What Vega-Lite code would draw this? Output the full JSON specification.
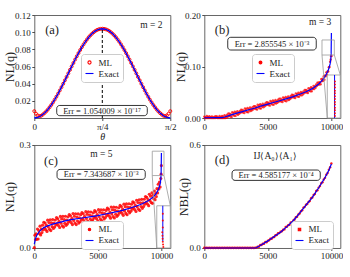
{
"$schema": "https://vega.github.io/schema/vega-lite/v6.json",
"padding": {"left": 3.3, "top": 10, "right": 0, "bottom": 0},
"config": {
  "font": "Liberation Serif",
  "view": {"stroke": "#666666", "strokeWidth": 1},
  "axis": {"grid": false, "domain": false, "tickSize": 2.5, "tickColor": "#222222", "tickWidth": 0.8, "labelFontSize": 9, "labelColor": "#222222", "labelPadding": 1.5, "labelFlush": false, "labelOverlap": false, "titleFontSize": 12, "titleFontWeight": "normal", "titleColor": "#222222", "labelFont": "Liberation Serif", "titleFont": "Liberation Serif"},
  "legend": {"labelFontSize": 9, "labelFont": "Liberation Serif", "labelColor": "#222222", "strokeColor": "#cccccc", "fillColor": "#ffffff", "cornerRadius": 3, "padding": 3.5, "rowPadding": 1, "labelOffset": 4, "symbolStrokeWidth": 1.2},
  "text": {"font": "Liberation Serif", "color": "#222222"}
},
"datasets": {
  "a_exact": [{"t":0,"v":0},{"t":0.03927,"v":0.00064},{"t":0.07854,"v":0.002545},{"t":0.11781,"v":0.005668},{"t":0.15708,"v":0.009931},{"t":0.19635,"v":0.015231},{"t":0.23562,"v":0.021435},{"t":0.27489,"v":0.028392},{"t":0.31416,"v":0.035931},{"t":0.35343,"v":0.043865},{"t":0.3927,"v":0.052},{"t":0.43197,"v":0.060135},{"t":0.47124,"v":0.068069},{"t":0.51051,"v":0.075608},{"t":0.54978,"v":0.082565},{"t":0.58905,"v":0.088769},{"t":0.62832,"v":0.094069},{"t":0.66759,"v":0.098332},{"t":0.70686,"v":0.101455},{"t":0.74613,"v":0.103359},{"t":0.7854,"v":0.104},{"t":0.82467,"v":0.103359},{"t":0.86394,"v":0.101455},{"t":0.90321,"v":0.098332},{"t":0.94248,"v":0.094069},{"t":0.98175,"v":0.088769},{"t":1.02102,"v":0.082565},{"t":1.06029,"v":0.075608},{"t":1.09956,"v":0.068069},{"t":1.13883,"v":0.060135},{"t":1.1781,"v":0.052},{"t":1.21737,"v":0.043865},{"t":1.25664,"v":0.035931},{"t":1.29591,"v":0.028392},{"t":1.33518,"v":0.021435},{"t":1.37445,"v":0.015231},{"t":1.41372,"v":0.009931},{"t":1.45299,"v":0.005668},{"t":1.49226,"v":0.002545},{"t":1.53153,"v":0.00064},{"t":1.5708,"v":0}],
  "a_ml": [{"t":0,"v":0.008},{"t":0.019635,"v":0.005},{"t":0.03927,"v":0.003},{"t":0.058905,"v":0.0022},{"t":0.07854,"v":0.0026},{"t":0.098175,"v":0.004},{"t":0.11781,"v":0.0057},{"t":0.137445,"v":0.0077},{"t":0.15708,"v":0.0099},{"t":0.176715,"v":0.0125},{"t":0.19635,"v":0.0152},{"t":0.215985,"v":0.0182},{"t":0.23562,"v":0.0214},{"t":0.255255,"v":0.0248},{"t":0.27489,"v":0.0284},{"t":0.294525,"v":0.0321},{"t":0.31416,"v":0.0359},{"t":0.333795,"v":0.0399},{"t":0.35343,"v":0.0439},{"t":0.373065,"v":0.0479},{"t":0.3927,"v":0.052},{"t":0.412335,"v":0.0561},{"t":0.43197,"v":0.0601},{"t":0.451605,"v":0.0641},{"t":0.47124,"v":0.0681},{"t":0.490875,"v":0.0719},{"t":0.51051,"v":0.0756},{"t":0.530145,"v":0.0792},{"t":0.54978,"v":0.0826},{"t":0.569415,"v":0.0858},{"t":0.58905,"v":0.0888},{"t":0.608685,"v":0.0915},{"t":0.62832,"v":0.0941},{"t":0.647955,"v":0.0963},{"t":0.66759,"v":0.0983},{"t":0.687225,"v":0.1},{"t":0.70686,"v":0.1015},{"t":0.726495,"v":0.1026},{"t":0.74613,"v":0.1034},{"t":0.765765,"v":0.1038},{"t":0.7854,"v":0.104},{"t":0.805035,"v":0.1038},{"t":0.82467,"v":0.1034},{"t":0.844305,"v":0.1026},{"t":0.86394,"v":0.1015},{"t":0.883575,"v":0.1},{"t":0.90321,"v":0.0983},{"t":0.922845,"v":0.0963},{"t":0.94248,"v":0.0941},{"t":0.962115,"v":0.0915},{"t":0.98175,"v":0.0888},{"t":1.001385,"v":0.0858},{"t":1.02102,"v":0.0826},{"t":1.040655,"v":0.0792},{"t":1.06029,"v":0.0756},{"t":1.079925,"v":0.0719},{"t":1.09956,"v":0.0681},{"t":1.119195,"v":0.0641},{"t":1.13883,"v":0.0601},{"t":1.158465,"v":0.0561},{"t":1.1781,"v":0.052},{"t":1.197735,"v":0.0479},{"t":1.21737,"v":0.0439},{"t":1.237005,"v":0.0399},{"t":1.25664,"v":0.0359},{"t":1.276275,"v":0.0321},{"t":1.29591,"v":0.0284},{"t":1.315545,"v":0.0248},{"t":1.33518,"v":0.0214},{"t":1.354815,"v":0.0182},{"t":1.37445,"v":0.0152},{"t":1.394085,"v":0.0125},{"t":1.41372,"v":0.0099},{"t":1.433355,"v":0.0077},{"t":1.45299,"v":0.0057},{"t":1.472625,"v":0.004},{"t":1.49226,"v":0.0026},{"t":1.511895,"v":0.0022},{"t":1.53153,"v":0.003},{"t":1.551165,"v":0.005},{"t":1.5708,"v":0.008}],
  "b_exact": [{"i":0,"v":0.0005},{"i":1000,"v":0.0006},{"i":1400,"v":0.0008},{"i":1600,"v":0.002},{"i":2000,"v":0.005},{"i":2500,"v":0.009},{"i":3000,"v":0.0125},{"i":3500,"v":0.016},{"i":4000,"v":0.0195},{"i":4500,"v":0.0235},{"i":5000,"v":0.027},{"i":5500,"v":0.0305},{"i":6000,"v":0.034},{"i":6500,"v":0.0375},{"i":7000,"v":0.0415},{"i":7500,"v":0.046},{"i":8000,"v":0.051},{"i":8500,"v":0.057},{"i":9000,"v":0.066},{"i":9200,"v":0.071},{"i":9400,"v":0.077},{"i":9600,"v":0.085},{"i":9700,"v":0.09},{"i":9800,"v":0.096},{"i":9900,"v":0.105},{"i":9950,"v":0.114},{"i":9980,"v":0.125},{"i":10000,"v":0.165}],
  "b_ml": [{"i":0,"v":0.0027},{"i":50,"v":0},{"i":100,"v":0.0012},{"i":150,"v":0},{"i":200,"v":0.0038},{"i":250,"v":0},{"i":300,"v":0.0022},{"i":350,"v":0},{"i":400,"v":0.0035},{"i":450,"v":0},{"i":500,"v":0.0016},{"i":550,"v":0},{"i":600,"v":0.0031},{"i":650,"v":0},{"i":700,"v":0.001},{"i":750,"v":0},{"i":800,"v":0.0025},{"i":850,"v":0},{"i":900,"v":0.0036},{"i":950,"v":0.0002},{"i":1000,"v":0.0028},{"i":1050,"v":0},{"i":1100,"v":0.0012},{"i":1150,"v":0},{"i":1200,"v":0.0038},{"i":1250,"v":0},{"i":1300,"v":0.0022},{"i":1350,"v":0},{"i":1400,"v":0.0037},{"i":1450,"v":0},{"i":1500,"v":0.0028},{"i":1550,"v":0},{"i":1600,"v":0.0056},{"i":1650,"v":0},{"i":1700,"v":0.0033},{"i":1750,"v":0.0005},{"i":1800,"v":0.0062},{"i":1850,"v":0.0025},{"i":1900,"v":0.0086},{"i":1950,"v":0.0041},{"i":2000,"v":0.0082},{"i":2050,"v":0.0031},{"i":2100,"v":0.0067},{"i":2150,"v":0.0021},{"i":2200,"v":0.0111},{"i":2250,"v":0.0061},{"i":2300,"v":0.0097},{"i":2350,"v":0.0046},{"i":2400,"v":0.0123},{"i":2450,"v":0.0041},{"i":2500,"v":0.0104},{"i":2550,"v":0.0076},{"i":2600,"v":0.0133},{"i":2650,"v":0.0065},{"i":2700,"v":0.0109},{"i":2750,"v":0.0081},{"i":2800,"v":0.0138},{"i":2850,"v":0.0101},{"i":2900,"v":0.0161},{"i":2950,"v":0.0117},{"i":3000,"v":0.0157},{"i":3050,"v":0.0106},{"i":3100,"v":0.0141},{"i":3150,"v":0.0095},{"i":3200,"v":0.0184},{"i":3250,"v":0.0134},{"i":3300,"v":0.0169},{"i":3350,"v":0.0118},{"i":3400,"v":0.0194},{"i":3450,"v":0.0112},{"i":3500,"v":0.0174},{"i":3550,"v":0.0146},{"i":3600,"v":0.0203},{"i":3650,"v":0.0135},{"i":3700,"v":0.0179},{"i":3750,"v":0.0151},{"i":3800,"v":0.0208},{"i":3850,"v":0.0171},{"i":3900,"v":0.0231},{"i":3950,"v":0.0187},{"i":4000,"v":0.0227},{"i":4050,"v":0.0176},{"i":4100,"v":0.0212},{"i":4150,"v":0.0166},{"i":4200,"v":0.0256},{"i":4250,"v":0.0206},{"i":4300,"v":0.0242},{"i":4350,"v":0.0191},{"i":4400,"v":0.0268},{"i":4450,"v":0.0186},{"i":4500,"v":0.0249},{"i":4550,"v":0.0221},{"i":4600,"v":0.0278},{"i":4650,"v":0.021},{"i":4700,"v":0.0254},{"i":4750,"v":0.0226},{"i":4800,"v":0.0283},{"i":4850,"v":0.0246},{"i":4900,"v":0.0306},{"i":4950,"v":0.0262},{"i":5000,"v":0.0302},{"i":5050,"v":0.0251},{"i":5100,"v":0.0286},{"i":5150,"v":0.024},{"i":5200,"v":0.0329},{"i":5250,"v":0.0279},{"i":5300,"v":0.0314},{"i":5350,"v":0.0263},{"i":5400,"v":0.0339},{"i":5450,"v":0.0257},{"i":5500,"v":0.0319},{"i":5550,"v":0.0291},{"i":5600,"v":0.0348},{"i":5650,"v":0.028},{"i":5700,"v":0.0324},{"i":5750,"v":0.0296},{"i":5800,"v":0.0353},{"i":5850,"v":0.0316},{"i":5900,"v":0.0376},{"i":5950,"v":0.0332},{"i":6000,"v":0.0372},{"i":6050,"v":0.0321},{"i":6100,"v":0.0356},{"i":6150,"v":0.031},{"i":6200,"v":0.0399},{"i":6250,"v":0.0349},{"i":6300,"v":0.0384},{"i":6350,"v":0.0333},{"i":6400,"v":0.0409},{"i":6450,"v":0.0327},{"i":6500,"v":0.0389},{"i":6550,"v":0.0361},{"i":6600,"v":0.0419},{"i":6650,"v":0.0351},{"i":6700,"v":0.0396},{"i":6750,"v":0.0368},{"i":6800,"v":0.0426},{"i":6850,"v":0.0389},{"i":6900,"v":0.045},{"i":6950,"v":0.0406},{"i":7000,"v":0.0447},{"i":7050,"v":0.0397},{"i":7100,"v":0.0433},{"i":7150,"v":0.0388},{"i":7200,"v":0.0478},{"i":7250,"v":0.0429},{"i":7300,"v":0.0465},{"i":7350,"v":0.0415},{"i":7400,"v":0.0492},{"i":7450,"v":0.0411},{"i":7500,"v":0.0474},{"i":7550,"v":0.0447},{"i":7600,"v":0.0506},{"i":7650,"v":0.0439},{"i":7700,"v":0.0485},{"i":7750,"v":0.0458},{"i":7800,"v":0.0517},{"i":7850,"v":0.0481},{"i":7900,"v":0.0543},{"i":7950,"v":0.05},{"i":8000,"v":0.0542},{"i":8050,"v":0.0493},{"i":8100,"v":0.0531},{"i":8150,"v":0.0487},{"i":8200,"v":0.0579},{"i":8250,"v":0.0531},{"i":8300,"v":0.0569},{"i":8350,"v":0.052},{"i":8400,"v":0.0599},{"i":8450,"v":0.0519},{"i":8500,"v":0.0584},{"i":8550,"v":0.0561},{"i":8600,"v":0.0624},{"i":8650,"v":0.0561},{"i":8700,"v":0.0611},{"i":8750,"v":0.0588},{"i":8800,"v":0.0651},{"i":8850,"v":0.0619},{"i":8900,"v":0.0685},{"i":8950,"v":0.0646},{"i":9000,"v":0.0692},{"i":9050,"v":0.065},{"i":9100,"v":0.0694},{"i":9150,"v":0.0657},{"i":9200,"v":0.0755},{"i":9250,"v":0.0716},{"i":9300,"v":0.0763},{"i":9350,"v":0.0723},{"i":9400,"v":0.0811},{"i":9450,"v":0.0745},{"i":9500,"v":0.0824},{"i":9550,"v":0.0812},{"i":9600,"v":0.0886},{"i":9650,"v":0.0839},{"i":9700,"v":0.0905},{"i":9750,"v":0.0903},{"i":9800,"v":0.0987},{"i":9850,"v":0.0991},{"i":9900,"v":0.1093},{"i":9950,"v":0.1135},{"i":9980,"v":0.12},{"i":10000,"v":0.121}],
  "b_inset": [{"i":10280,"v":0.004},{"i":10280,"v":0.009},{"i":10280,"v":0.015},{"i":10280,"v":0.02},{"i":10280,"v":0.026},{"i":10280,"v":0.031},{"i":10280,"v":0.037},{"i":10280,"v":0.042},{"i":10280,"v":0.048},{"i":10280,"v":0.053},{"i":10280,"v":0.059},{"i":10280,"v":0.065},{"i":10280,"v":0.071}],
  "c_exact": [{"i":0,"v":0.0112},{"i":100,"v":0.028},{"i":200,"v":0.0374},{"i":400,"v":0.0486},{"i":700,"v":0.058},{"i":1000,"v":0.0636},{"i":1500,"v":0.0701},{"i":2000,"v":0.0748},{"i":2500,"v":0.0795},{"i":3000,"v":0.0832},{"i":3500,"v":0.086},{"i":4000,"v":0.0888},{"i":4500,"v":0.0916},{"i":5000,"v":0.0944},{"i":5500,"v":0.0982},{"i":6000,"v":0.1019},{"i":6500,"v":0.1057},{"i":7000,"v":0.1103},{"i":7500,"v":0.1159},{"i":8000,"v":0.1216},{"i":8500,"v":0.129},{"i":9000,"v":0.1384},{"i":9300,"v":0.1468},{"i":9500,"v":0.1543},{"i":9700,"v":0.1655},{"i":9800,"v":0.1739},{"i":9900,"v":0.1861},{"i":9950,"v":0.1992},{"i":9980,"v":0.22},{"i":10000,"v":0.277}],
  "c_ml": [{"i":0,"v":0.001},{"i":50,"v":0.0374},{"i":100,"v":0.0247},{"i":150,"v":0.0411},{"i":200,"v":0.0256},{"i":250,"v":0.0554},{"i":300,"v":0.0262},{"i":350,"v":0.0509},{"i":400,"v":0.0419},{"i":450,"v":0.0637},{"i":500,"v":0.0382},{"i":550,"v":0.055},{"i":600,"v":0.0448},{"i":650,"v":0.0665},{"i":700,"v":0.0529},{"i":750,"v":0.0749},{"i":800,"v":0.0582},{"i":850,"v":0.0726},{"i":900,"v":0.0533},{"i":950,"v":0.066},{"i":1000,"v":0.0484},{"i":1050,"v":0.0811},{"i":1100,"v":0.0615},{"i":1150,"v":0.074},{"i":1200,"v":0.0544},{"i":1250,"v":0.082},{"i":1300,"v":0.0507},{"i":1350,"v":0.0732},{"i":1400,"v":0.0621},{"i":1450,"v":0.0829},{"i":1500,"v":0.0567},{"i":1550,"v":0.0723},{"i":1600,"v":0.061},{"i":1650,"v":0.0816},{"i":1700,"v":0.0669},{"i":1750,"v":0.0885},{"i":1800,"v":0.0712},{"i":1850,"v":0.0852},{"i":1900,"v":0.0655},{"i":1950,"v":0.0777},{"i":2000,"v":0.0597},{"i":2050,"v":0.0921},{"i":2100,"v":0.0724},{"i":2150,"v":0.0846},{"i":2200,"v":0.0649},{"i":2250,"v":0.0923},{"i":2300,"v":0.0608},{"i":2350,"v":0.0831},{"i":2400,"v":0.0718},{"i":2450,"v":0.0925},{"i":2500,"v":0.066},{"i":2550,"v":0.0815},{"i":2600,"v":0.0701},{"i":2650,"v":0.0907},{"i":2700,"v":0.0759},{"i":2750,"v":0.0973},{"i":2800,"v":0.08},{"i":2850,"v":0.0939},{"i":2900,"v":0.0741},{"i":2950,"v":0.0862},{"i":3000,"v":0.0681},{"i":3050,"v":0.1003},{"i":3100,"v":0.0804},{"i":3150,"v":0.0925},{"i":3200,"v":0.0726},{"i":3250,"v":0.0998},{"i":3300,"v":0.0681},{"i":3350,"v":0.0902},{"i":3400,"v":0.0787},{"i":3450,"v":0.0992},{"i":3500,"v":0.0726},{"i":3550,"v":0.088},{"i":3600,"v":0.0765},{"i":3650,"v":0.097},{"i":3700,"v":0.0821},{"i":3750,"v":0.1034},{"i":3800,"v":0.086},{"i":3850,"v":0.0998},{"i":3900,"v":0.0798},{"i":3950,"v":0.0919},{"i":4000,"v":0.0737},{"i":4050,"v":0.1059},{"i":4100,"v":0.086},{"i":4150,"v":0.0981},{"i":4200,"v":0.0782},{"i":4250,"v":0.1054},{"i":4300,"v":0.0737},{"i":4350,"v":0.0958},{"i":4400,"v":0.0843},{"i":4450,"v":0.1048},{"i":4500,"v":0.0782},{"i":4550,"v":0.0936},{"i":4600,"v":0.0821},{"i":4650,"v":0.1026},{"i":4700,"v":0.0877},{"i":4750,"v":0.109},{"i":4800,"v":0.0916},{"i":4850,"v":0.1054},{"i":4900,"v":0.0855},{"i":4950,"v":0.0975},{"i":5000,"v":0.0793},{"i":5050,"v":0.1116},{"i":5100,"v":0.0918},{"i":5150,"v":0.104},{"i":5200,"v":0.0842},{"i":5250,"v":0.1115},{"i":5300,"v":0.0798},{"i":5350,"v":0.1021},{"i":5400,"v":0.0907},{"i":5450,"v":0.1113},{"i":5500,"v":0.0847},{"i":5550,"v":0.1002},{"i":5600,"v":0.0888},{"i":5650,"v":0.1094},{"i":5700,"v":0.0946},{"i":5750,"v":0.116},{"i":5800,"v":0.0987},{"i":5850,"v":0.1126},{"i":5900,"v":0.0928},{"i":5950,"v":0.1049},{"i":6000,"v":0.0868},{"i":6050,"v":0.1191},{"i":6100,"v":0.0993},{"i":6150,"v":0.1115},{"i":6200,"v":0.0916},{"i":6250,"v":0.1189},{"i":6300,"v":0.0873},{"i":6350,"v":0.1096},{"i":6400,"v":0.0982},{"i":6450,"v":0.1187},{"i":6500,"v":0.0922},{"i":6550,"v":0.1078},{"i":6600,"v":0.0965},{"i":6650,"v":0.1172},{"i":6700,"v":0.1025},{"i":6750,"v":0.124},{"i":6800,"v":0.1068},{"i":6850,"v":0.1207},{"i":6900,"v":0.101},{"i":6950,"v":0.1132},{"i":7000,"v":0.0952},{"i":7050,"v":0.1277},{"i":7100,"v":0.1081},{"i":7150,"v":0.1204},{"i":7200,"v":0.1008},{"i":7250,"v":0.1283},{"i":7300,"v":0.0969},{"i":7350,"v":0.1193},{"i":7400,"v":0.1081},{"i":7450,"v":0.1288},{"i":7500,"v":0.1025},{"i":7550,"v":0.1182},{"i":7600,"v":0.107},{"i":7650,"v":0.1277},{"i":7700,"v":0.1131},{"i":7750,"v":0.1347},{"i":7800,"v":0.1176},{"i":7850,"v":0.1316},{"i":7900,"v":0.112},{"i":7950,"v":0.1244},{"i":8000,"v":0.1064},{"i":8050,"v":0.1391},{"i":8100,"v":0.1197},{"i":8150,"v":0.1322},{"i":8200,"v":0.1128},{"i":8250,"v":0.1404},{"i":8300,"v":0.1092},{"i":8350,"v":0.1318},{"i":8400,"v":0.1208},{"i":8450,"v":0.1417},{"i":8500,"v":0.1156},{"i":8550,"v":0.1316},{"i":8600,"v":0.1208},{"i":8650,"v":0.1419},{"i":8700,"v":0.1277},{"i":8750,"v":0.1497},{"i":8800,"v":0.133},{"i":8850,"v":0.1474},{"i":8900,"v":0.1281},{"i":8950,"v":0.1408},{"i":9000,"v":0.1232},{"i":9050,"v":0.1566},{"i":9100,"v":0.1378},{"i":9150,"v":0.151},{"i":9200,"v":0.1322},{"i":9250,"v":0.1605},{"i":9300,"v":0.13},{"i":9350,"v":0.1537},{"i":9400,"v":0.1438},{"i":9450,"v":0.1659},{"i":9500,"v":0.1408},{"i":9550,"v":0.1588},{"i":9600,"v":0.1498},{"i":9650,"v":0.1728},{"i":9700,"v":0.1604},{"i":9750,"v":0.1857},{"i":9800,"v":0.1722},{"i":9850,"v":0.1918},{"i":9900,"v":0.1777},{"i":9950,"v":0.2025},{"i":9980,"v":0.215},{"i":10000,"v":0.24}],
  "c_inset": [{"i":10150,"v":0.003},{"i":10130,"v":0.01},{"i":10110,"v":0.018},{"i":10095,"v":0.027},{"i":10080,"v":0.036},{"i":10065,"v":0.046},{"i":10110,"v":0.06},{"i":10110,"v":0.08},{"i":10110,"v":0.1}],
  "d_exact": [{"i":0,"v":0},{"i":4050,"v":0},{"i":4500,"v":0.0185},{"i":5000,"v":0.0415},{"i":5500,"v":0.0665},{"i":6000,"v":0.0923},{"i":6500,"v":0.1246},{"i":7000,"v":0.1588},{"i":7500,"v":0.2031},{"i":8000,"v":0.2492},{"i":8500,"v":0.2954},{"i":9000,"v":0.3507},{"i":9500,"v":0.4107},{"i":9800,"v":0.4523},{"i":10000,"v":0.4892}],
  "d_ml": [{"i":0,"v":0.0015},{"i":100,"v":0.0005},{"i":200,"v":0.0015},{"i":300,"v":0.0005},{"i":400,"v":0.0015},{"i":500,"v":0.0005},{"i":600,"v":0.0015},{"i":700,"v":0.0005},{"i":800,"v":0.0015},{"i":900,"v":0.0005},{"i":1000,"v":0.0015},{"i":1100,"v":0.0005},{"i":1200,"v":0.0015},{"i":1300,"v":0.0005},{"i":1400,"v":0.0015},{"i":1500,"v":0.0005},{"i":1600,"v":0.0015},{"i":1700,"v":0.0005},{"i":1800,"v":0.0015},{"i":1900,"v":0.0005},{"i":2000,"v":0.0015},{"i":2100,"v":0.0005},{"i":2200,"v":0.0015},{"i":2300,"v":0.0005},{"i":2400,"v":0.0015},{"i":2500,"v":0.0005},{"i":2600,"v":0.0015},{"i":2700,"v":0.0005},{"i":2800,"v":0.0015},{"i":2900,"v":0.0005},{"i":3000,"v":0.0015},{"i":3100,"v":0.0005},{"i":3200,"v":0.0015},{"i":3300,"v":0.0005},{"i":3400,"v":0.0015},{"i":3500,"v":0.0005},{"i":3600,"v":0.0015},{"i":3700,"v":0.0005},{"i":3800,"v":0.0015},{"i":3900,"v":0.0005},{"i":4000,"v":0.0015},{"i":4100,"v":0.001},{"i":4200,"v":0.0072},{"i":4300,"v":0.0069},{"i":4400,"v":0.018},{"i":4500,"v":0.0178},{"i":4600,"v":0.0249},{"i":4700,"v":0.0251},{"i":4800,"v":0.0356},{"i":4900,"v":0.0332},{"i":5000,"v":0.0426},{"i":5100,"v":0.045},{"i":5200,"v":0.0545},{"i":5300,"v":0.0535},{"i":5400,"v":0.0619},{"i":5500,"v":0.0643},{"i":5600,"v":0.0738},{"i":5700,"v":0.0757},{"i":5800,"v":0.0855},{"i":5900,"v":0.0867},{"i":6000,"v":0.0949},{"i":6100,"v":0.097},{"i":6200,"v":0.1059},{"i":6300,"v":0.1084},{"i":6400,"v":0.1218},{"i":6500,"v":0.1239},{"i":6600,"v":0.1332},{"i":6700,"v":0.1357},{"i":6800,"v":0.1484},{"i":6900,"v":0.1482},{"i":7000,"v":0.1599},{"i":7100,"v":0.1661},{"i":7200,"v":0.1795},{"i":7300,"v":0.1823},{"i":7400,"v":0.1946},{"i":7500,"v":0.2009},{"i":7600,"v":0.2145},{"i":7700,"v":0.2204},{"i":7800,"v":0.2343},{"i":7900,"v":0.2396},{"i":8000,"v":0.2518},{"i":8100,"v":0.2566},{"i":8200,"v":0.2684},{"i":8300,"v":0.2736},{"i":8400,"v":0.2898},{"i":8500,"v":0.2947},{"i":8600,"v":0.3082},{"i":8700,"v":0.3149},{"i":8800,"v":0.3319},{"i":8900,"v":0.336},{"i":9000,"v":0.3518},{"i":9100,"v":0.3612},{"i":9200,"v":0.3777},{"i":9300,"v":0.3837},{"i":9400,"v":0.3991},{"i":9500,"v":0.4085},{"i":9600,"v":0.4268},{"i":9700,"v":0.4373},{"i":9800,"v":0.4558},{"i":9900,"v":0.4703},{"i":10000,"v":0.4918}]
},
"columns": 2,
"spacing": {"row": 27, "column": 34},
"bounds": "flush",
"resolve": {"scale": {"color": "independent"}},
"concat": [
 {
  "width": 136, "height": 103,
  "layer": [
   {"data": {"name": "a_ml"}, "mark": {"type": "point", "filled": false, "strokeWidth": 0.9, "size": 9, "opacity": 1},
    "encoding": {
     "x": {"field": "t", "type": "quantitative", "scale": {"domain": [0, 1.5708], "nice": false, "zero": false}, "axis": {"values": [0, 0.7854, 1.5708], "labelExpr": "datum.value < 0.1 ? '0' : (datum.value < 1 ? 'π/4' : 'π/2')", "title": "θ", "titleFontStyle": "italic", "titleFontSize": 10, "titleY": 22, "titleBaseline": "alphabetic"}},
     "y": {"field": "v", "type": "quantitative", "scale": {"domain": [0, 0.12], "nice": false}, "axis": {"values": [0.02, 0.04, 0.06, 0.08, 0.1, 0.12], "tickCount": 6, "labelExpr": "datum.value < 0.001 ? '' : format(datum.value, '.2f')", "title": "NL(q)", "titleX": -24.3, "titleY": 51.5, "titleAngle": 270, "titleBaseline": "middle", "titleAlign": "center"}},
     "color": {"datum": "ML", "type": "nominal", "scale": {"domain": ["ML", "Exact"], "range": ["#ff0000", "#0000ff"]}, "legend": {"orient": "none", "legendX": 46.7, "legendY": 39, "title": null, "encoding": {"symbols": {"shape": {"value": {"expr": "datum.value === 'ML' ? 'circle' : 'stroke'"}}, "size": {"value": {"expr": "datum.value === 'ML' ? 10 : 64"}}, "stroke": {"value": {"expr": "datum.value === 'ML' ? '#ff0000' : '#0000ff'"}}, "fill": {"value": "transparent"}, "strokeWidth": {"value": 1.1}, "opacity": {"value": 1}}}}}
    }},
   {"data": {"name": "a_exact"}, "mark": {"type": "line", "strokeWidth": 1.3},
    "encoding": {"x": {"field": "t", "type": "quantitative"}, "y": {"field": "v", "type": "quantitative"},
     "color": {"datum": "Exact", "type": "nominal", "legend": {"orient": "none", "legendX": 46.7, "legendY": 39, "title": null, "encoding": {"symbols": {"shape": {"value": {"expr": "datum.value === 'ML' ? 'circle' : 'stroke'"}}, "size": {"value": {"expr": "datum.value === 'ML' ? 10 : 64"}}, "stroke": {"value": {"expr": "datum.value === 'ML' ? '#ff0000' : '#0000ff'"}}, "fill": {"value": "transparent"}, "strokeWidth": {"value": 1.1}, "opacity": {"value": 1}}}}}}},
   {"data": {"values": [{}]}, "mark": {"type": "rule", "strokeDash": [3, 2], "color": "black", "strokeWidth": 1}, "encoding": {"x": {"datum": 0.7854}, "y": {"datum": 0}, "y2": {"datum": 0.104}}},
   {"data": {"values": [{}]}, "mark": {"type": "rect", "cornerRadius": 3, "fill": "white", "stroke": "black", "strokeWidth": 0.8}, "encoding": {"x": {"datum": 0.259}, "x2": {"datum": 1.305}, "y": {"datum": 0.0027}, "y2": {"datum": 0.0146}}},
   {"data": {"values": [{}]}, "mark": {"type": "text", "fontSize": 8.5}, "encoding": {"x": {"datum": 0.782}, "y": {"datum": 0.0087}, "text": {"value": "Err = 1.054009 × 10⁻¹⁷"}}},
   {"data": {"values": [{}]}, "mark": {"type": "text", "fontSize": 12.5}, "encoding": {"x": {"datum": 0.205}, "y": {"datum": 0.1026}, "text": {"value": "(a)"}}},
   {"data": {"values": [{}]}, "mark": {"type": "text", "fontSize": 9.5}, "encoding": {"x": {"datum": 1.351}, "y": {"datum": 0.1084}, "text": {"value": "m = 2"}}}
  ]
 },
 {
  "width": 136, "height": 103,
  "layer": [
   {"data": {"name": "b_ml"}, "mark": {"type": "point", "filled": true, "size": 6, "opacity": 0.75},
    "encoding": {
     "x": {"field": "i", "type": "quantitative", "scale": {"domain": [0, 10700], "nice": false, "zero": false}, "axis": {"values": [0, 5000, 10000], "format": "d", "title": null}},
     "y": {"field": "v", "type": "quantitative", "scale": {"domain": [0, 0.2], "nice": false}, "axis": {"values": [0, 0.05, 0.1, 0.15, 0.2], "format": ".2f", "title": "NL(q)", "titleX": -24, "titleY": 51.5, "titleAngle": 270, "titleBaseline": "middle", "titleAlign": "center"}},
     "color": {"datum": "ML", "type": "nominal", "scale": {"domain": ["ML", "Exact"], "range": ["#ff0000", "#0000ff"]}, "legend": {"orient": "none", "legendX": 47.7, "legendY": 39, "title": null, "encoding": {"symbols": {"shape": {"value": {"expr": "datum.value === 'ML' ? 'circle' : 'stroke'"}}, "size": {"value": {"expr": "datum.value === 'ML' ? 8 : 64"}}, "stroke": {"value": {"expr": "datum.value === 'ML' ? '#ff0000' : '#0000ff'"}}, "fill": {"value": "transparent"}, "strokeWidth": {"value": 1.1}, "opacity": {"value": 1}}}}}
    }},
   {"data": {"name": "b_exact"}, "mark": {"type": "line", "strokeWidth": 1.2},
    "encoding": {"x": {"field": "i", "type": "quantitative"}, "y": {"field": "v", "type": "quantitative"},
     "color": {"datum": "Exact", "type": "nominal", "legend": {"orient": "none", "legendX": 47.7, "legendY": 39, "title": null, "encoding": {"symbols": {"shape": {"value": {"expr": "datum.value === 'ML' ? 'circle' : 'stroke'"}}, "size": {"value": {"expr": "datum.value === 'ML' ? 8 : 64"}}, "stroke": {"value": {"expr": "datum.value === 'ML' ? '#ff0000' : '#0000ff'"}}, "fill": {"value": "transparent"}, "strokeWidth": {"value": 1.1}, "opacity": {"value": 1}}}}}}},
   {"data": {"values": [{}]}, "mark": {"type": "rect", "fill": "white", "stroke": "#999999", "strokeWidth": 0.8}, "encoding": {"x": {"datum": 9675}, "x2": {"datum": 10700}, "y": {"datum": 0}, "y2": {"datum": 0.0835}}},
   {"data": {"values": [{}]}, "mark": {"type": "rule", "color": "#0000ff", "strokeWidth": 1}, "encoding": {"x": {"datum": 10250}, "y": {"datum": 0}, "y2": {"datum": 0.0835}}},
   {"data": {"name": "b_inset"}, "mark": {"type": "point", "filled": true, "color": "#ff0000", "size": 4, "opacity": 0.9}, "encoding": {"x": {"field": "i", "type": "quantitative"}, "y": {"field": "v", "type": "quantitative"}}},
   {"data": {"values": [{}]}, "mark": {"type": "rect", "fill": "white", "fillOpacity": 0, "stroke": "#999999", "strokeWidth": 0.8}, "encoding": {"x": {"datum": 9260}, "x2": {"datum": 10230}, "y": {"datum": 0.1223}, "y2": {"datum": 0.1515}}},
   {"data": {"values": [{}]}, "mark": {"type": "rule", "color": "#999999", "strokeWidth": 0.8}, "encoding": {"x": {"datum": 9260}, "y": {"datum": 0.1223}, "x2": {"datum": 9675}, "y2": {"datum": 0}}},
   {"data": {"values": [{}]}, "mark": {"type": "rule", "color": "#999999", "strokeWidth": 0.8}, "encoding": {"x": {"datum": 10230}, "y": {"datum": 0.1223}, "x2": {"datum": 10700}, "y2": {"datum": 0.0835}}},
   {"data": {"values": [{}]}, "mark": {"type": "rect", "cornerRadius": 3, "fill": "white", "stroke": "black", "strokeWidth": 0.8}, "encoding": {"x": {"datum": 1845}, "x2": {"datum": 8807}, "y": {"datum": 0.132}, "y2": {"datum": 0.1567}}},
   {"data": {"values": [{}]}, "mark": {"type": "text", "fontSize": 8.5}, "encoding": {"x": {"datum": 5326}, "y": {"datum": 0.1443}, "text": {"value": "Err = 2.855545 × 10⁻³"}}},
   {"data": {"values": [{}]}, "mark": {"type": "text", "fontSize": 12.5}, "encoding": {"x": {"datum": 1395}, "y": {"datum": 0.171}, "text": {"value": "(b)"}}},
   {"data": {"values": [{}]}, "mark": {"type": "text", "fontSize": 9.5}, "encoding": {"x": {"datum": 9120}, "y": {"datum": 0.186}, "text": {"value": "m = 3"}}}
  ]
 },
 {
  "width": 136, "height": 103,
  "layer": [
   {"data": {"name": "c_ml"}, "mark": {"type": "point", "filled": true, "size": 10, "opacity": 0.85},
    "encoding": {
     "x": {"field": "i", "type": "quantitative", "scale": {"domain": [0, 10700], "nice": false, "zero": false}, "axis": {"values": [0, 5000, 10000], "format": "d", "title": null}},
     "y": {"field": "v", "type": "quantitative", "scale": {"domain": [0, 0.3], "nice": false}, "axis": {"values": [0, 0.1, 0.2, 0.3], "format": ".1f", "title": "NL(q)", "titleX": -24.3, "titleY": 51.5, "titleAngle": 270, "titleBaseline": "middle", "titleAlign": "center"}},
     "color": {"datum": "ML", "type": "nominal", "scale": {"domain": ["ML", "Exact"], "range": ["#ff0000", "#0000ff"]}, "legend": {"orient": "none", "legendX": 46.7, "legendY": 76, "title": null, "encoding": {"symbols": {"shape": {"value": {"expr": "datum.value === 'ML' ? 'circle' : 'stroke'"}}, "size": {"value": {"expr": "datum.value === 'ML' ? 6 : 64"}}, "stroke": {"value": {"expr": "datum.value === 'ML' ? '#ff0000' : '#0000ff'"}}, "fill": {"value": {"expr": "datum.value === 'ML' ? '#ff0000' : 'transparent'"}}, "strokeWidth": {"value": 1.1}, "opacity": {"value": 1}}}}}
    }},
   {"data": {"name": "c_exact"}, "mark": {"type": "line", "strokeWidth": 1.2},
    "encoding": {"x": {"field": "i", "type": "quantitative"}, "y": {"field": "v", "type": "quantitative"},
     "color": {"datum": "Exact", "type": "nominal", "legend": {"orient": "none", "legendX": 46.7, "legendY": 76, "title": null, "encoding": {"symbols": {"shape": {"value": {"expr": "datum.value === 'ML' ? 'circle' : 'stroke'"}}, "size": {"value": {"expr": "datum.value === 'ML' ? 6 : 64"}}, "stroke": {"value": {"expr": "datum.value === 'ML' ? '#ff0000' : '#0000ff'"}}, "fill": {"value": {"expr": "datum.value === 'ML' ? '#ff0000' : 'transparent'"}}, "strokeWidth": {"value": 1.1}, "opacity": {"value": 1}}}}}}},
   {"data": {"values": [{}]}, "mark": {"type": "rect", "fill": "white", "stroke": "#999999", "strokeWidth": 0.8}, "encoding": {"x": {"datum": 9636}, "x2": {"datum": 10700}, "y": {"datum": 0}, "y2": {"datum": 0.123}}},
   {"data": {"values": [{}]}, "mark": {"type": "rule", "color": "#0000ff", "strokeWidth": 1}, "encoding": {"x": {"datum": 10110}, "y": {"datum": 0.02}, "y2": {"datum": 0.123}}},
   {"data": {"name": "c_inset"}, "mark": {"type": "point", "filled": true, "color": "#ff0000", "size": 4, "opacity": 0.9}, "encoding": {"x": {"field": "i", "type": "quantitative"}, "y": {"field": "v", "type": "quantitative"}}},
   {"data": {"values": [{}]}, "mark": {"type": "rect", "fill": "white", "fillOpacity": 0, "stroke": "#999999", "strokeWidth": 0.8}, "encoding": {"x": {"datum": 9280}, "x2": {"datum": 10203}, "y": {"datum": 0.211}, "y2": {"datum": 0.282}}},
   {"data": {"values": [{}]}, "mark": {"type": "rule", "color": "#999999", "strokeWidth": 0.8}, "encoding": {"x": {"datum": 9280}, "y": {"datum": 0.211}, "x2": {"datum": 9636}, "y2": {"datum": 0}}},
   {"data": {"values": [{}]}, "mark": {"type": "rule", "color": "#999999", "strokeWidth": 0.8}, "encoding": {"x": {"datum": 10203}, "y": {"datum": 0.211}, "x2": {"datum": 10700}, "y2": {"datum": 0.123}}},
   {"data": {"values": [{}]}, "mark": {"type": "rect", "cornerRadius": 3, "fill": "white", "stroke": "black", "strokeWidth": 0.8}, "encoding": {"x": {"datum": 1790}, "x2": {"datum": 8729}, "y": {"datum": 0.1998}, "y2": {"datum": 0.2289}}},
   {"data": {"values": [{}]}, "mark": {"type": "text", "fontSize": 8.5}, "encoding": {"x": {"datum": 5260}, "y": {"datum": 0.2143}, "text": {"value": "Err = 7.343687 × 10⁻³"}}},
   {"data": {"values": [{}]}, "mark": {"type": "text", "fontSize": 12.5}, "encoding": {"x": {"datum": 1317}, "y": {"datum": 0.2533}, "text": {"value": "(c)"}}},
   {"data": {"values": [{}]}, "mark": {"type": "text", "fontSize": 9.5}, "encoding": {"x": {"datum": 5283}, "y": {"datum": 0.2724}, "text": {"value": "m = 5"}}}
  ]
 },
 {
  "width": 136, "height": 103,
  "layer": [
   {"data": {"name": "d_ml"}, "mark": {"type": "point", "filled": true, "size": 6, "opacity": 0.9},
    "encoding": {
     "x": {"field": "i", "type": "quantitative", "scale": {"domain": [0, 10700], "nice": false, "zero": false}, "axis": {"values": [0, 5000, 10000], "format": "d", "title": null}},
     "y": {"field": "v", "type": "quantitative", "scale": {"domain": [0, 0.6], "nice": false}, "axis": {"values": [0, 0.2, 0.4, 0.6], "format": ".1f", "title": "NBL(q)", "titleX": -21, "titleY": 51.5, "titleAngle": 270, "titleBaseline": "middle", "titleAlign": "center"}},
     "color": {"datum": "ML", "type": "nominal", "scale": {"domain": ["ML", "Exact"], "range": ["#ff0000", "#0000ff"]}, "legend": {"orient": "none", "legendX": 86.7, "legendY": 76, "title": null, "encoding": {"symbols": {"shape": {"value": {"expr": "datum.value === 'ML' ? 'square' : 'stroke'"}}, "size": {"value": {"expr": "datum.value === 'ML' ? 6 : 64"}}, "stroke": {"value": {"expr": "datum.value === 'ML' ? '#ff0000' : '#0000ff'"}}, "fill": {"value": {"expr": "datum.value === 'ML' ? '#ff0000' : 'transparent'"}}, "strokeWidth": {"value": 1.1}, "opacity": {"value": 1}}}}}
    }},
   {"data": {"name": "d_exact"}, "mark": {"type": "line", "strokeWidth": 1.2},
    "encoding": {"x": {"field": "i", "type": "quantitative"}, "y": {"field": "v", "type": "quantitative"},
     "color": {"datum": "Exact", "type": "nominal", "legend": {"orient": "none", "legendX": 86.7, "legendY": 76, "title": null, "encoding": {"symbols": {"shape": {"value": {"expr": "datum.value === 'ML' ? 'square' : 'stroke'"}}, "size": {"value": {"expr": "datum.value === 'ML' ? 6 : 64"}}, "stroke": {"value": {"expr": "datum.value === 'ML' ? '#ff0000' : '#0000ff'"}}, "fill": {"value": {"expr": "datum.value === 'ML' ? '#ff0000' : 'transparent'"}}, "strokeWidth": {"value": 1.1}, "opacity": {"value": 1}}}}}}},
   {"data": {"values": [{}]}, "mark": {"type": "rect", "cornerRadius": 3, "fill": "white", "stroke": "black", "strokeWidth": 0.8}, "encoding": {"x": {"datum": 2184}, "x2": {"datum": 9123}, "y": {"datum": 0.3938}, "y2": {"datum": 0.4542}}},
   {"data": {"values": [{}]}, "mark": {"type": "text", "fontSize": 8.5}, "encoding": {"x": {"datum": 5650}, "y": {"datum": 0.424}, "text": {"value": "Err = 4.585177 × 10⁻⁴"}}},
   {"data": {"values": [{}]}, "mark": {"type": "text", "fontSize": 12.5}, "encoding": {"x": {"datum": 1402}, "y": {"datum": 0.51}, "text": {"value": "(d)"}}},
   {"data": {"values": [{}]}, "mark": {"type": "text", "fontSize": 9.5}, "encoding": {"x": {"datum": 5576}, "y": {"datum": 0.5355}, "text": {"value": "IJ⟨A₀⟩⟨A₁⟩"}}}
  ]
 }
]
}
